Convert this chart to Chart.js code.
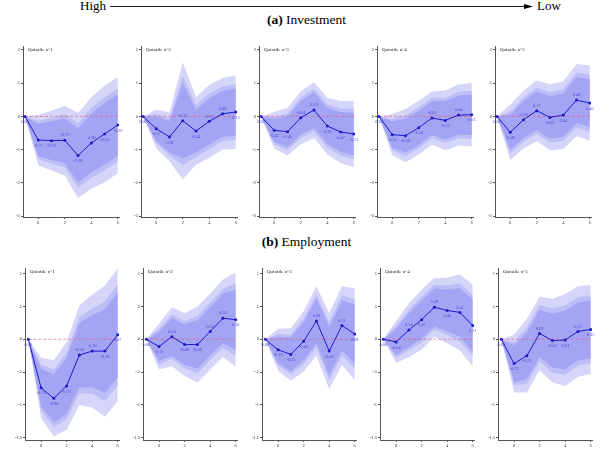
<!DOCTYPE html>
<html>
<head>
<meta charset="utf-8">
<script src="https://cdn.jsdelivr.net/npm/chart.js@4.4.0/dist/chart.umd.min.js"></script>
<style>
  body { margin: 0; background: #fff; width: 613px; height: 449px; position: relative; overflow: hidden; font-family: "Liberation Serif", "DejaVu Serif", serif; }
  canvas { position: absolute; }
  .txt { position: absolute; white-space: nowrap; color: #000; }
  .cap { position: absolute; width: 613px; text-align: center; font-size: 13.5px; }
</style>
</head>
<body>
<div class="txt" style="left:80px; top:-2px; font-size:13px;">High</div>
<svg style="position:absolute; left:0; top:0;" width="613" height="14">
  <line x1="110" y1="6.5" x2="528" y2="6.5" stroke="#000" stroke-width="0.9"/>
  <path d="M524 4 L533 6.5 L524 9 Z" fill="#000"/>
</svg>
<div class="txt" style="left:537px; top:-2px; font-size:13px;">Low</div>
<div class="cap" style="top:12px;"><b>(a)</b> Investment</div>
<div class="cap" style="top:234px;"><b>(b)</b> Employment</div>

<canvas id="inv1" width="114" height="189"></canvas>
<canvas id="inv2" width="114" height="189"></canvas>
<canvas id="inv3" width="114" height="189"></canvas>
<canvas id="inv4" width="114" height="189"></canvas>
<canvas id="inv5" width="114" height="189"></canvas>
<canvas id="emp1" width="112" height="190"></canvas>
<canvas id="emp2" width="112" height="190"></canvas>
<canvas id="emp3" width="112" height="190"></canvas>
<canvas id="emp4" width="112" height="190"></canvas>
<canvas id="emp5" width="112" height="190"></canvas>

<script>
// ---------------- data ----------------
const horizons = [-1, 0, 1, 2, 3, 4, 5, 6];
const xTicks = [0, 2, 4, 6];
const invYTicks = [-3, -2, -1, 0, 1, 2];
const invYLabels = ['-3', '-2', '-1', '0', '1', '2'];
const empYTicks = [-1.5, -1, -0.5, 0, 0.5, 1];
const empYLabels = ['-1.5', '-1', '-.5', '0', '.5', '1'];
const quintiles = ['Quintile n°1', 'Quintile n°2', 'Quintile n°3', 'Quintile n°4', 'Quintile n°5'];

// Investment
const invQ1 = [0, -0.71, -0.73, -0.72, -1.18, -0.80, -0.53, -0.26];
const invQ1InHi = [0, -0.22, -0.15, -0.06, -0.36, 0.08, 0.40, 0.67];
const invQ1InLo = [0, -1.20, -1.31, -1.40, -2.00, -1.68, -1.46, -1.19];
const invQ1MidHi = [0, -0.13, -0.05, 0.07, -0.21, 0.25, 0.57, 0.84];
const invQ1MidLo = [0, -1.29, -1.41, -1.53, -2.15, -1.85, -1.63, -1.36];
const invQ1OutHi = [0, 0.05, 0.17, 0.32, 0.10, 0.58, 0.92, 1.19];
const invQ1OutLo = [0, -1.47, -1.63, -1.78, -2.46, -2.18, -1.98, -1.71];

const invQ2 = [0, -0.37, -0.62, -0.13, -0.44, -0.15, 0.08, 0.13];
const invQ2InHi = [0, 0.00, -0.15, 1.00, 0.21, 0.55, 0.77, 0.84];
const invQ2InLo = [0, -0.74, -1.09, -1.26, -1.09, -0.85, -0.61, -0.58];
const invQ2MidHi = [0, 0.07, -0.06, 1.21, 0.34, 0.69, 0.90, 0.97];
const invQ2MidLo = [0, -0.81, -1.18, -1.47, -1.22, -0.99, -0.74, -0.71];
const invQ2OutHi = [0, 0.21, 0.12, 1.63, 0.58, 0.95, 1.16, 1.24];
const invQ2OutLo = [0, -0.95, -1.36, -1.89, -1.46, -1.25, -1.00, -0.98];

const invQ3 = [0, -0.42, -0.46, -0.04, 0.19, -0.29, -0.47, -0.53];
const invQ3InHi = [0, -0.07, 0.00, 0.47, 0.73, 0.25, 0.13, 0.11];
const invQ3InLo = [0, -0.77, -0.92, -0.55, -0.35, -0.83, -1.07, -1.17];
const invQ3MidHi = [0, 0.00, 0.09, 0.57, 0.83, 0.36, 0.24, 0.23];
const invQ3MidLo = [0, -0.84, -1.01, -0.65, -0.45, -0.94, -1.18, -1.29];
const invQ3OutHi = [0, 0.13, 0.26, 0.76, 1.03, 0.56, 0.46, 0.47];
const invQ3OutLo = [0, -0.97, -1.18, -0.84, -0.65, -1.14, -1.40, -1.53];

const invQ4 = [0, -0.55, -0.58, -0.34, -0.05, -0.12, 0.04, 0.05];
const invQ4InHi = [0, -0.15, -0.07, 0.18, 0.46, 0.46, 0.63, 0.66];
const invQ4InLo = [0, -0.95, -1.09, -0.86, -0.56, -0.70, -0.55, -0.56];
const invQ4MidHi = [0, -0.08, 0.03, 0.28, 0.56, 0.56, 0.74, 0.78];
const invQ4MidLo = [0, -1.02, -1.19, -0.96, -0.66, -0.80, -0.66, -0.68];
const invQ4OutHi = [0, 0.07, 0.22, 0.47, 0.75, 0.78, 0.96, 1.01];
const invQ4OutLo = [0, -1.17, -1.38, -1.15, -0.85, -1.02, -0.88, -0.91];

const invQ5 = [0, -0.48, -0.10, 0.17, -0.03, 0.04, 0.49, 0.40];
const invQ5InHi = [0, 0.05, 0.46, 0.75, 0.61, 0.69, 1.19, 1.12];
const invQ5InLo = [0, -1.01, -0.66, -0.41, -0.67, -0.61, -0.21, -0.32];
const invQ5MidHi = [0, 0.15, 0.56, 0.86, 0.73, 0.82, 1.32, 1.26];
const invQ5MidLo = [0, -1.11, -0.76, -0.52, -0.79, -0.74, -0.34, -0.46];
const invQ5OutHi = [0, 0.35, 0.77, 1.08, 0.97, 1.06, 1.58, 1.53];
const invQ5OutLo = [0, -1.31, -0.97, -0.74, -1.03, -0.98, -0.60, -0.73];

// Employment
const empQ1 = [0, -0.74, -0.90, -0.71, -0.24, -0.18, -0.18, 0.07];
const empQ1InHi = [0, -0.45, -0.53, -0.28, 0.25, 0.37, 0.46, 0.72];
const empQ1InLo = [0, -1.03, -1.27, -1.14, -0.73, -0.73, -0.82, -0.58];
const empQ1MidHi = [0, -0.39, -0.46, -0.20, 0.34, 0.47, 0.58, 0.84];
const empQ1MidLo = [0, -1.09, -1.34, -1.22, -0.82, -0.83, -0.94, -0.70];
const empQ1OutHi = [0, -0.28, -0.32, -0.04, 0.52, 0.68, 0.82, 1.08];
const empQ1OutLo = [0, -1.20, -1.48, -1.38, -1.00, -1.04, -1.18, -0.94];

const empQ2 = [0, -0.11, 0.04, -0.08, -0.08, 0.12, 0.32, 0.30];
const empQ2InHi = [0, 0.11, 0.33, 0.23, 0.29, 0.49, 0.70, 0.76];
const empQ2InLo = [0, -0.33, -0.25, -0.39, -0.45, -0.25, -0.06, -0.16];
const empQ2MidHi = [0, 0.16, 0.38, 0.28, 0.36, 0.56, 0.77, 0.85];
const empQ2MidLo = [0, -0.38, -0.30, -0.44, -0.52, -0.32, -0.13, -0.25];
const empQ2OutHi = [0, 0.24, 0.49, 0.40, 0.50, 0.70, 0.91, 1.02];
const empQ2OutLo = [0, -0.46, -0.41, -0.56, -0.66, -0.46, -0.27, -0.42];

const empQ3 = [0, -0.16, -0.23, -0.03, 0.28, -0.18, 0.21, 0.08];
const empQ3InHi = [0, 0.04, 0.03, 0.26, 0.62, 0.19, 0.59, 0.53];
const empQ3InLo = [0, -0.36, -0.49, -0.32, -0.06, -0.55, -0.17, -0.37];
const empQ3MidHi = [0, 0.08, 0.07, 0.32, 0.68, 0.26, 0.67, 0.61];
const empQ3MidLo = [0, -0.40, -0.53, -0.38, -0.12, -0.62, -0.25, -0.45];
const empQ3OutHi = [0, 0.16, 0.17, 0.43, 0.81, 0.40, 0.81, 0.78];
const empQ3OutLo = [0, -0.48, -0.63, -0.49, -0.25, -0.76, -0.39, -0.62];

const empQ4 = [0, -0.04, 0.14, 0.30, 0.49, 0.44, 0.41, 0.21];
const empQ4InHi = [0, 0.16, 0.40, 0.59, 0.78, 0.76, 0.78, 0.61];
const empQ4InLo = [0, -0.24, -0.12, 0.01, 0.20, 0.12, 0.04, -0.19];
const empQ4MidHi = [0, 0.20, 0.45, 0.65, 0.83, 0.82, 0.85, 0.68];
const empQ4MidLo = [0, -0.28, -0.17, -0.05, 0.15, 0.06, -0.03, -0.26];
const empQ4OutHi = [0, 0.28, 0.55, 0.76, 0.94, 0.94, 0.99, 0.83];
const empQ4OutLo = [0, -0.36, -0.27, -0.16, 0.04, -0.06, -0.17, -0.41];

const empQ5 = [0, -0.37, -0.25, 0.09, -0.02, -0.01, 0.12, 0.15];
const empQ5InHi = [0, -0.09, 0.11, 0.45, 0.39, 0.44, 0.56, 0.59];
const empQ5InLo = [0, -0.65, -0.61, -0.27, -0.43, -0.46, -0.32, -0.29];
const empQ5MidHi = [0, -0.04, 0.18, 0.52, 0.47, 0.52, 0.64, 0.67];
const empQ5MidLo = [0, -0.70, -0.68, -0.34, -0.51, -0.54, -0.40, -0.37];
const empQ5OutHi = [0, 0.07, 0.31, 0.65, 0.62, 0.69, 0.81, 0.83];
const empQ5OutLo = [0, -0.81, -0.81, -0.47, -0.66, -0.71, -0.57, -0.53];

// where the little value labels sit: 1 = above the point, 0 = below
const invLabelUp = [
  [0, 0, 0, 1, 0, 1, 0, 0],
  [0, 0, 0, 1, 0, 1, 1, 0],
  [0, 0, 0, 1, 1, 0, 0, 0],
  [0, 0, 0, 0, 1, 0, 1, 0],
  [0, 0, 1, 1, 0, 0, 1, 0]
];
const empLabelUp = [
  [0, 0, 0, 0, 1, 1, 0, 0],
  [0, 0, 1, 0, 0, 1, 1, 0],
  [0, 0, 0, 0, 1, 0, 1, 0],
  [0, 0, 1, 0, 1, 0, 1, 0],
  [0, 0, 0, 1, 0, 0, 1, 0]
];

// ---------------- styles ----------------
const LINE = '#1c1cc8';
const LABEL = '#4a4ad0';
const INNER = '#a4a4f4';
const MID = '#bdbdf7';
const OUTER = '#d5d5fa';
const ZERO = 'rgba(232,96,120,0.85)';
const AXIS = '#555';
const FONT = '"Liberation Serif", serif';

// panel titles + value labels
const panelText = {
  id: 'panelText',
  afterDatasetsDraw(chart, args, opts) {
    const ctx = chart.ctx;
    const area = chart.chartArea;
    ctx.save();
    ctx.fillStyle = '#222';
    ctx.font = '5px ' + FONT;
    ctx.textAlign = 'left';
    ctx.textBaseline = 'middle';
    ctx.fillText(opts.title, area.left + 5, area.top + 4);

    const meta = chart.getDatasetMeta(0);
    ctx.fillStyle = LABEL;
    ctx.font = '4.3px ' + FONT;
    ctx.textAlign = 'center';
    meta.data.forEach((pt, i) => {
      const v = opts.values[i];
      const txt = v.toFixed(2);
      const up = opts.up[i] === 1;
      ctx.fillText(txt, pt.x, up ? pt.y - 5 : pt.y + 5.5);
    });
    ctx.restore();
  }
};

function makePanel(id, left, top, title, est, bands, up, y) {
  const canvas = document.getElementById(id);
  canvas.style.left = left + 'px';
  canvas.style.top = top + 'px';
  const pts = arr => horizons.map((h, i) => ({ x: h, y: arr[i] }));
  const band = (arr, fill, color) => ({
    data: pts(arr), borderColor: 'rgba(0,0,0,0)', borderWidth: 0, pointRadius: 0,
    fill: fill, backgroundColor: color, tension: 0
  });
  new Chart(canvas, {
    type: 'line',
    data: {
      datasets: [
        { data: pts(est), borderColor: LINE, borderWidth: 1, pointRadius: 1.5,
          pointBackgroundColor: LINE, pointBorderWidth: 0, fill: false, tension: 0 },
        { data: pts(horizons.map(() => 0)), borderColor: ZERO, borderWidth: 0.8,
          borderDash: [3, 2], pointRadius: 0, fill: false },
        band(bands[0], '+1', INNER),
        band(bands[1], false, INNER),
        band(bands[2], '+1', MID),
        band(bands[3], false, MID),
        band(bands[4], '+1', OUTER),
        band(bands[5], false, OUTER)
      ]
    },
    options: {
      responsive: false,
      animation: false,
      devicePixelRatio: 1,
      layout: { padding: { top: 6, right: 3, left: 0, bottom: 0 } },
      plugins: {
        legend: { display: false },
        tooltip: { enabled: false },
        panelText: { title: title, values: est, up: up }
      },
      scales: {
        x: {
          type: 'linear', min: y.xMin, max: y.xMax,
          grid: { drawOnChartArea: false, drawTicks: true, tickLength: 2, color: AXIS },
          border: { color: AXIS, width: 1 },
          ticks: { font: { family: FONT, size: 4.5 }, color: '#333', padding: 1, maxRotation: 0 },
          afterBuildTicks: s => { s.ticks = xTicks.map(v => ({ value: v })); },
          afterFit: s => { s.height = 12; }
        },
        y: {
          min: y.min, max: y.max,
          grid: { drawOnChartArea: false, drawTicks: true, tickLength: 2, color: AXIS },
          border: { color: AXIS, width: 1 },
          ticks: { font: { family: FONT, size: 4.5 }, color: '#333', padding: 1,
                   callback: (v, i) => y.labels[i] },
          afterBuildTicks: s => { s.ticks = y.ticks.map(v => ({ value: v })); },
          afterFit: s => { s.width = 14; }
        }
      }
    },
    plugins: [panelText]
  });
}

const invAxis = { min: -3.03, max: 2.12, ticks: invYTicks, labels: invYLabels, xMin: -1.15, xMax: 6.09 };
const empAxis = { min: -1.535, max: 1.087, ticks: empYTicks, labels: empYLabels, xMin: -1.26, xMax: 6.1 };

const invData = [
  [invQ1, [invQ1InHi, invQ1InLo, invQ1MidHi, invQ1MidLo, invQ1OutHi, invQ1OutLo]],
  [invQ2, [invQ2InHi, invQ2InLo, invQ2MidHi, invQ2MidLo, invQ2OutHi, invQ2OutLo]],
  [invQ3, [invQ3InHi, invQ3InLo, invQ3MidHi, invQ3MidLo, invQ3OutHi, invQ3OutLo]],
  [invQ4, [invQ4InHi, invQ4InLo, invQ4MidHi, invQ4MidLo, invQ4OutHi, invQ4OutLo]],
  [invQ5, [invQ5InHi, invQ5InLo, invQ5MidHi, invQ5MidLo, invQ5OutHi, invQ5OutLo]]
];
const empData = [
  [empQ1, [empQ1InHi, empQ1InLo, empQ1MidHi, empQ1MidLo, empQ1OutHi, empQ1OutLo]],
  [empQ2, [empQ2InHi, empQ2InLo, empQ2MidHi, empQ2MidLo, empQ2OutHi, empQ2OutLo]],
  [empQ3, [empQ3InHi, empQ3InLo, empQ3MidHi, empQ3MidLo, empQ3OutHi, empQ3OutLo]],
  [empQ4, [empQ4InHi, empQ4InLo, empQ4MidHi, empQ4MidLo, empQ4OutHi, empQ4OutLo]],
  [empQ5, [empQ5InHi, empQ5InLo, empQ5MidHi, empQ5MidLo, empQ5OutHi, empQ5OutLo]]
];

invData.forEach((d, k) => {
  makePanel('inv' + (k + 1), 9 + 118 * k, 40, quintiles[k], d[0], d[1], invLabelUp[k], invAxis);
});
empData.forEach((d, k) => {
  makePanel('emp' + (k + 1), 11 + 118.3 * k, 262, quintiles[k], d[0], d[1], empLabelUp[k], empAxis);
});
</script>
</body>
</html>
